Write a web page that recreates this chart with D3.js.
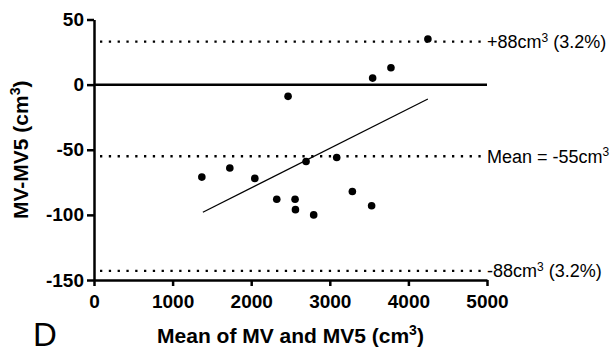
<!DOCTYPE html>
<html>
<head>
<meta charset="utf-8">
<script src="https://cdn.jsdelivr.net/npm/d3@7"></script>
<style>
  body { margin: 0; background: #fff; }
  svg { display: block; font-family: "Liberation Sans", Arial, sans-serif; }
  .axis path, .axis line { stroke: #000; stroke-width: 2.5px; }
  .axis text { font-size: 19px; font-weight: bold; fill: #000; }
</style>
</head>
<body>
<div id="chart"></div>
<script>
const WIDTH = 614
const HEIGHT = 354

// Bland-Altman points: mean of MV and MV5 vs difference
const meanValues = [1372, 1728, 2046, 2325, 2469, 2558, 2563, 2698, 2795, 3088, 3287, 3532, 3545, 3778, 4248]
const diffValues = [-71, -64, -72, -88, -9, -88, -96, -59, -100, -56, -82, -93, 5, 13, 35]

// fitted trend line ends
const trendX = [1385, 4248]
const trendY = [-98, -11]

const limitValues = [33, -55, -143]
const limitLabels = [
  ['+88cm', '3', ' (3.2%)'],
  ['Mean = -55cm', '3', ''],
  ['-88cm', '3', ' (3.2%)']
]

const xTicks = [0, 1000, 2000, 3000, 4000, 5000]
const yTicks = [50, 0, -50, -100, -150]

const x = d3.scaleLinear().domain([0, 5000]).range([94, 487])
const y = d3.scaleLinear().domain([-150, 50]).range([280, 19.5])

// plain hyphen minus, like the original figure
const plain = d => String(d)

const svg = d3.select('#chart')
  .append('svg')
  .attr('width', WIDTH)
  .attr('height', HEIGHT)

// dotted limit lines
svg.selectAll('.limit')
  .data(limitValues)
  .enter()
  .append('line')
  .attr('class', 'limit')
  .attr('x1', x(0) + 6)
  .attr('x2', x(5000) - 6)
  .attr('y1', d => y(d))
  .attr('y2', d => y(d))
  .attr('stroke', '#000')
  .attr('stroke-width', 2.3)
  .attr('stroke-dasharray', '2.3,6.5')

const labels = svg.selectAll('.limit-label')
  .data(limitValues)
  .enter()
  .append('text')
  .attr('class', 'limit-label')
  .attr('x', x(5000))
  .attr('y', d => y(d))
  .attr('dy', '0.36em')
  .attr('font-size', 18)
  .attr('fill', '#000')
labels.append('tspan').text((d, i) => limitLabels[i][0])
labels.append('tspan')
  .attr('dy', '-0.55em')
  .attr('font-size', 12)
  .text((d, i) => limitLabels[i][1])
labels.append('tspan')
  .attr('dy', '0.37em')
  .text((d, i) => limitLabels[i][2])

// zero line
svg.append('line')
  .attr('x1', x(0))
  .attr('x2', x(5000))
  .attr('y1', y(0))
  .attr('y2', y(0))
  .attr('stroke', '#000')
  .attr('stroke-width', 2.5)

// trend line
svg.append('path')
  .datum(trendX.map((v, i) => [v, trendY[i]]))
  .attr('d', d3.line().x(d => x(d[0])).y(d => y(d[1])))
  .attr('fill', 'none')
  .attr('stroke', '#000')
  .attr('stroke-width', 1.2)

svg.selectAll('.dot')
  .data(meanValues)
  .enter()
  .append('circle')
  .attr('class', 'dot')
  .attr('cx', d => x(d))
  .attr('cy', (d, i) => y(diffValues[i]))
  .attr('r', 3.8)
  .attr('fill', '#000')

svg.append('g')
  .attr('class', 'axis')
  .attr('transform', `translate(${x(0)},0)`)
  .call(d3.axisLeft(y).tickValues(yTicks).tickSize(7).tickSizeOuter(0).tickPadding(3).tickFormat(plain))

svg.append('g')
  .attr('class', 'axis')
  .attr('transform', `translate(0,${y(-150)})`)
  .call(d3.axisBottom(x).tickValues(xTicks).tickSize(6).tickSizeOuter(0).tickPadding(9).tickFormat(plain))

// axis titles
const yTitle = svg.append('text')
  .attr('transform', `translate(28,${(y(50) + y(-150)) / 2}) rotate(-90)`)
  .attr('text-anchor', 'middle')
  .attr('font-size', 21)
  .attr('font-weight', 'bold')
yTitle.append('tspan').text('MV-MV5 (cm')
yTitle.append('tspan').attr('dy', '-0.55em').attr('font-size', 14).text('3')
yTitle.append('tspan').attr('dy', '0.36em').text(')')

const xTitle = svg.append('text')
  .attr('x', (x(0) + x(5000)) / 2)
  .attr('y', 343)
  .attr('text-anchor', 'middle')
  .attr('font-size', 21)
  .attr('font-weight', 'bold')
xTitle.append('tspan').text('Mean of MV and MV5 (cm')
xTitle.append('tspan').attr('dy', '-0.55em').attr('font-size', 14).text('3')
xTitle.append('tspan').attr('dy', '0.36em').text(')')

svg.append('text')
  .attr('x', 33)
  .attr('y', 346)
  .attr('font-size', 33)
  .text('D')
</script>
</body>
</html>
